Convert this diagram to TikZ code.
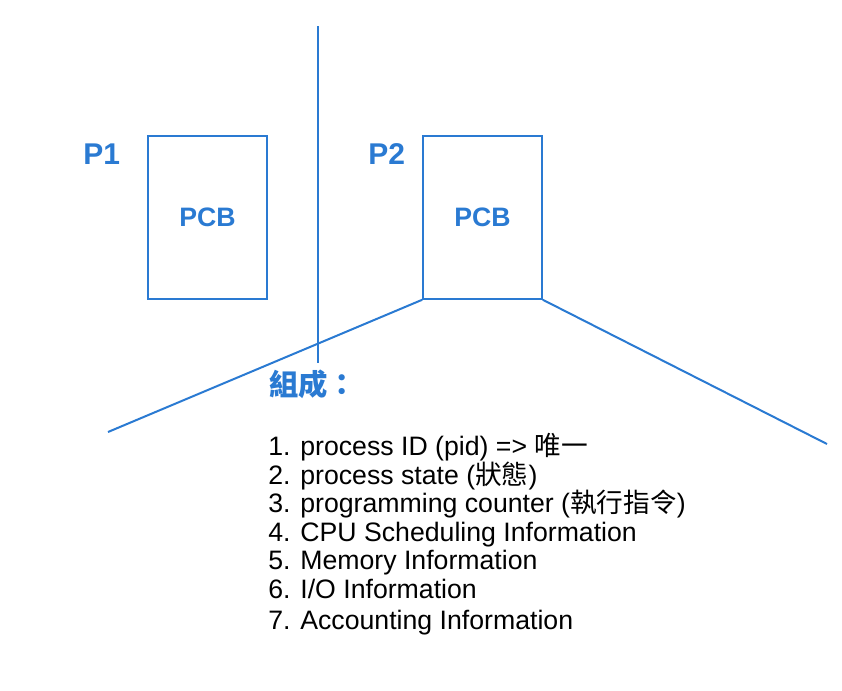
\documentclass[tikz,border=0pt]{standalone}
\usepackage{fontspec}
\setmainfont{Liberation Sans}
\newfontfamily\cjk{Noto Sans CJK TC}
\definecolor{pblue}{RGB}{42,122,210}
\begin{document}
\begin{tikzpicture}[x=0.75pt,y=-0.75pt,
  pcbbox/.style={draw=pblue,line width=1.1pt,minimum width=89.25pt,minimum height=122.25pt,inner sep=0pt,text=pblue,font=\fontsize{20}{24}\selectfont\bfseries},
  plabel/.style={anchor=base west,inner sep=0pt,text=pblue,font=\fontsize{22.5}{27}\selectfont\bfseries},
  item/.style={anchor=base west,inner sep=0pt,font=\fontsize{20}{24}\selectfont},
  conn/.style={draw=pblue,line width=1.5pt}]
\useasboundingbox (0,0) rectangle (842,690);
\node[pcbbox] (b1) at (207.5,217.5) {PCB};
\node[pcbbox] (b2) at (482.5,217.5) {PCB};
\node[plabel] (p1) at (83,164) {P1};
\node[plabel] (p2) at (368,164) {P2};
\coordinate (vt) at (318,26);
\coordinate (vb) at (318,363);
\coordinate (ll) at (108,432);
\coordinate (rr) at (827,444);
\draw[conn] (vt) -- (vb);
\draw[conn] (b2.south west) -- (ll);
\draw[conn] (b2.south east) -- (rr);
\node[anchor=base west,inner sep=0pt,text=pblue,font=\fontsize{22}{26}\selectfont\cjk\bfseries] (title) at (269,395) {組成：};
\node[item] (i1) at (268,455) {1. process ID (pid) => {\cjk 唯一}};
\node[item] (i2) at (268,484) {2. process state ({\cjk 狀態})};
\node[item] (i3) at (268,512.5) {3. programming counter ({\cjk 執行指令})};
\node[item] (i4) at (268,541) {4. CPU Scheduling Information};
\node[item] (i5) at (268,569) {5. Memory Information};
\node[item] (i6) at (268,598) {6. I/O Information};
\node[item] (i7) at (268,629) {7. Accounting Information};
\end{tikzpicture}
\end{document}
